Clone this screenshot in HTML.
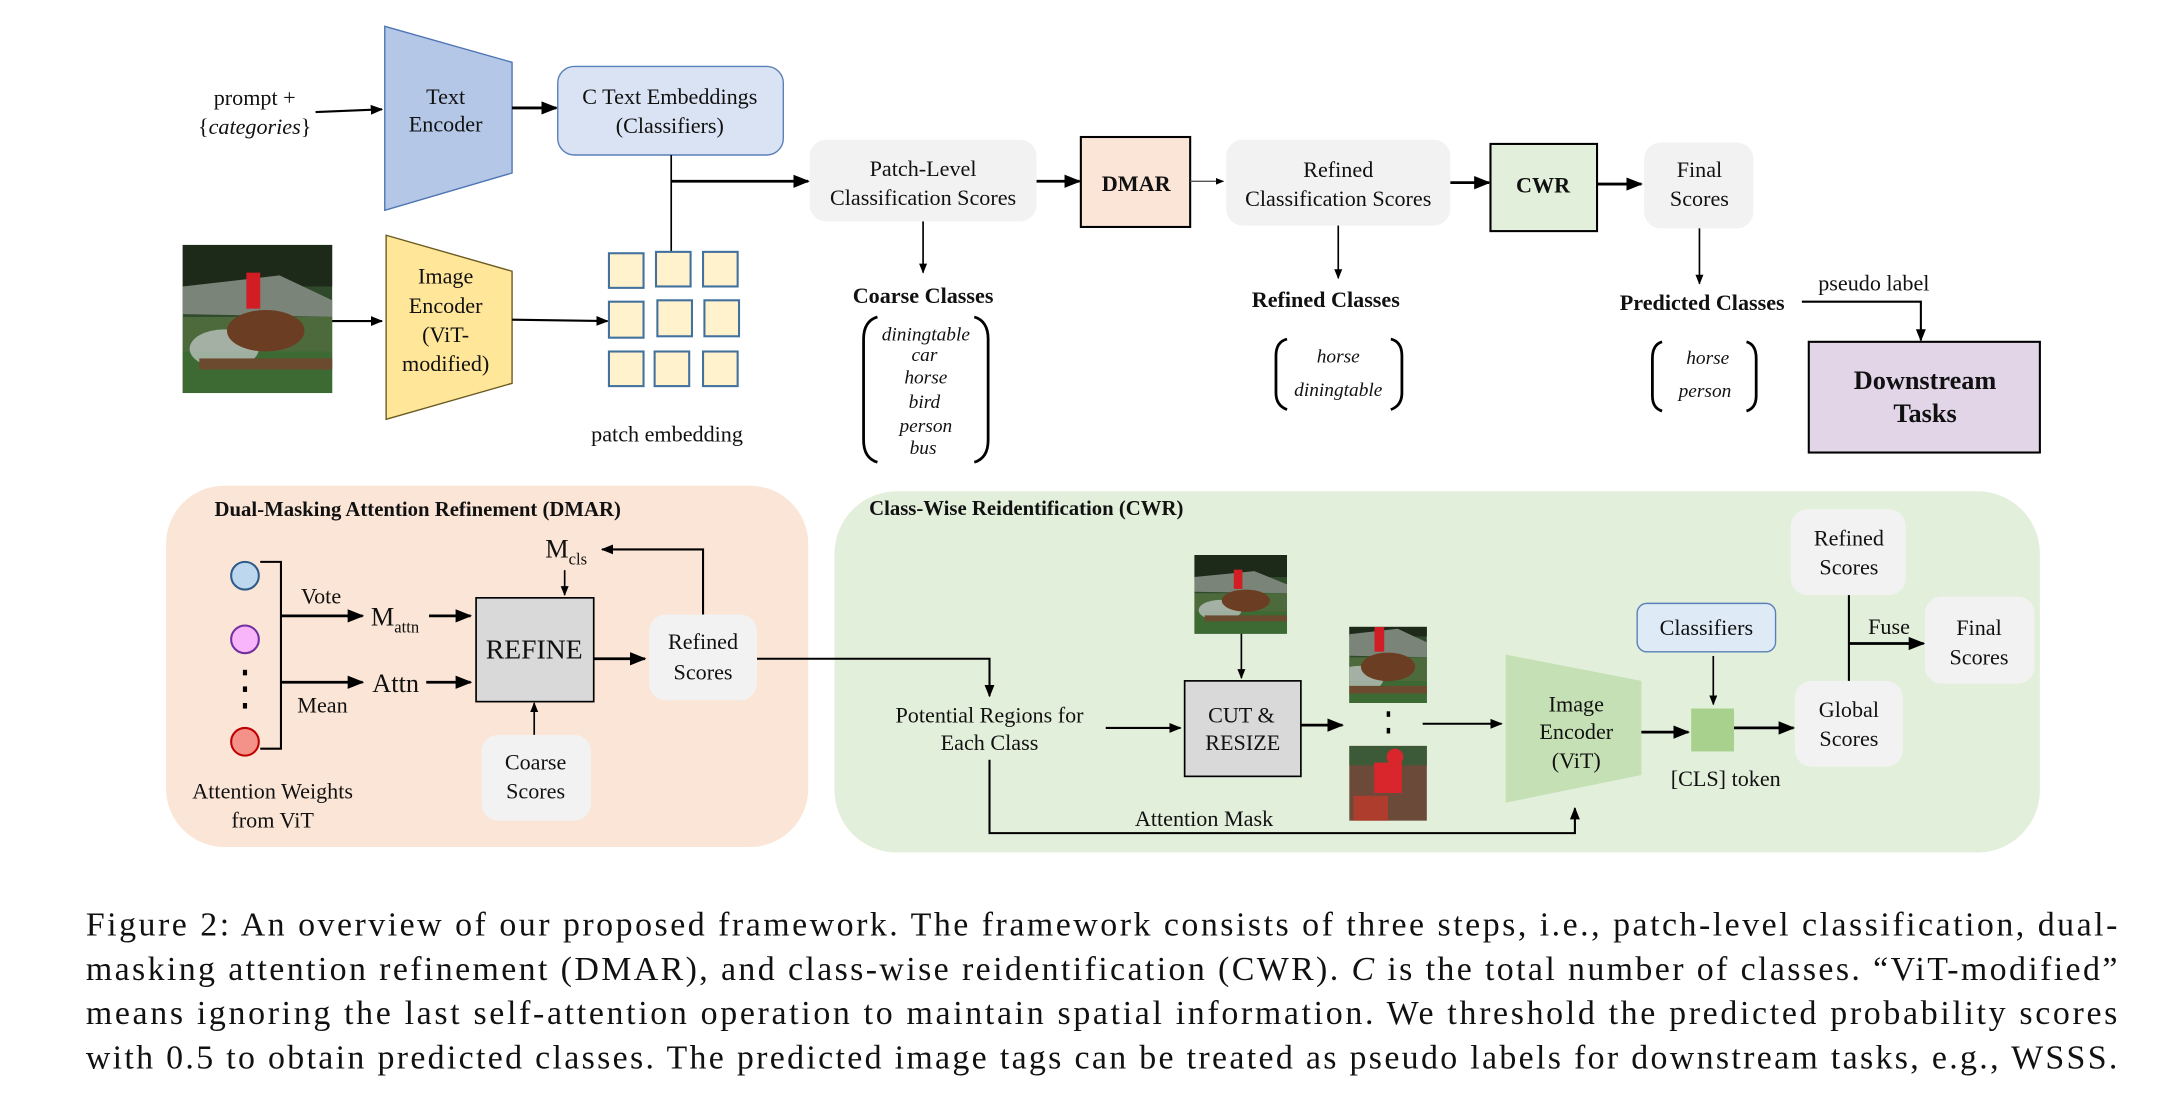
<!DOCTYPE html>
<html><head><meta charset="utf-8"><style>
html,body{margin:0;padding:0;background:#fff;}
svg{display:block;}
text{font-family:"Liberation Serif","Times New Roman",Times,serif;fill:#111;}
.c{text-anchor:middle;}
.t{font-size:16px;}
.b{font-weight:bold;}
.i{font-style:italic;}
.cap{font-size:24.5px;}
</style></head><body>
<svg width="2170" height="1115" viewBox="0 0 1568 805.7" xmlns="http://www.w3.org/2000/svg">
<defs>
<marker id="a" viewBox="0 0 10 10" refX="9" refY="5" markerWidth="6" markerHeight="6" orient="auto"><path d="M0,1 L10,5 L0,9 z" fill="#000"/></marker>
<g id="horse">
<rect x="0" y="0" width="108" height="107" fill="#2f4a2a"/>
<rect x="0" y="0" width="108" height="30" fill="#1d2a1a"/>
<polygon points="0,30 70,22 108,40 108,52 0,50" fill="#7a8478"/>
<rect x="0" y="52" width="108" height="25" fill="#4d6a3c"/>
<rect x="0" y="77" width="108" height="30" fill="#3d6a32"/>
<ellipse cx="30" cy="75" rx="25" ry="14" fill="#c9cfcf" opacity="0.7"/>
<ellipse cx="60" cy="62" rx="28" ry="15" fill="#6b3d22"/>
<rect x="46" y="20" width="10" height="26" fill="#d21d24"/>
<rect x="12" y="82" width="96" height="8" fill="#6b4a30"/>
</g>
</defs>

<!-- top row -->
<text class="t c" x="184" y="76">prompt +</text>
<text class="t c" x="184" y="97">{<tspan class="i">categories</tspan>}</text>
<line x1="228" y1="81" x2="276" y2="79" stroke="#000" stroke-width="1.5" marker-end="url(#a)"/>
<polygon points="278,19 370,45 370,125 278,152" fill="#b4c7e7" stroke="#4f76b4" stroke-width="1"/>
<text class="t c" x="322" y="75">Text</text>
<text class="t c" x="322" y="95">Encoder</text>
<line x1="370" y1="78" x2="402" y2="78" stroke="#000" stroke-width="2" marker-end="url(#a)"/>
<rect x="403" y="48" width="163" height="64" rx="12" fill="#dae3f3" stroke="#5a80b8" stroke-width="1"/>
<text class="t c" x="484" y="75">C Text Embeddings</text>
<text class="t c" x="484" y="96">(Classifiers)</text>
<line x1="485" y1="112" x2="485" y2="182" stroke="#000" stroke-width="1.2"/>
<line x1="485" y1="131" x2="584" y2="131" stroke="#000" stroke-width="2" marker-end="url(#a)"/>
<rect x="585" y="101" width="164" height="59" rx="12" fill="#f2f2f2"/>
<text class="t c" x="667" y="127">Patch-Level</text>
<text class="t c" x="667" y="148">Classification Scores</text>
<line x1="749" y1="131" x2="780" y2="131" stroke="#000" stroke-width="2" marker-end="url(#a)"/>
<rect x="781" y="99" width="79" height="65" fill="#fbe5d6" stroke="#000" stroke-width="1.5"/>
<text class="t c b" x="821" y="138">DMAR</text>
<line x1="860" y1="131" x2="884" y2="131" stroke="#555" stroke-width="1" marker-end="url(#a)"/>
<rect x="886" y="101" width="162" height="62" rx="12" fill="#f2f2f2"/>
<text class="t c" x="967" y="128">Refined</text>
<text class="t c" x="967" y="149">Classification Scores</text>
<line x1="1048" y1="132" x2="1076" y2="132" stroke="#000" stroke-width="2" marker-end="url(#a)"/>
<rect x="1077" y="104" width="77" height="63" fill="#e2efda" stroke="#000" stroke-width="1.5"/>
<text class="t c b" x="1115" y="139">CWR</text>
<line x1="1154" y1="133" x2="1186" y2="133" stroke="#000" stroke-width="2" marker-end="url(#a)"/>
<rect x="1188" y="103" width="79" height="62" rx="12" fill="#f2f2f2"/>
<text class="t c" x="1228" y="128">Final</text>
<text class="t c" x="1228" y="149">Scores</text>

<!-- class lists -->
<line x1="667" y1="160" x2="667" y2="197" stroke="#000" stroke-width="1.2" marker-end="url(#a)"/>
<text class="t c b" x="667" y="219">Coarse Classes</text>
<path d="M634,229 Q624,232 624,245 L624,318 Q624,331 634,334" fill="none" stroke="#000" stroke-width="2"/>
<path d="M704,229 Q714,232 714,245 L714,318 Q714,331 704,334" fill="none" stroke="#000" stroke-width="2"/>
<text class="c i" x="669" y="246" font-size="14">diningtable</text>
<text class="c i" x="668" y="261" font-size="14">car</text>
<text class="c i" x="669" y="277" font-size="14">horse</text>
<text class="c i" x="668" y="295" font-size="14">bird</text>
<text class="c i" x="669" y="312" font-size="14">person</text>
<text class="c i" x="667" y="328" font-size="14">bus</text>
<line x1="967" y1="163" x2="967" y2="201" stroke="#000" stroke-width="1.2" marker-end="url(#a)"/>
<text class="t c b" x="958" y="222">Refined Classes</text>
<path d="M930,245 Q922,247 922,257 L922,284 Q922,293 930,296" fill="none" stroke="#000" stroke-width="2"/>
<path d="M1005,245 Q1013,247 1013,257 L1013,284 Q1013,293 1005,296" fill="none" stroke="#000" stroke-width="2"/>
<text class="c i" x="967" y="262" font-size="14">horse</text>
<text class="c i" x="967" y="286" font-size="14">diningtable</text>
<line x1="1228" y1="165" x2="1228" y2="205" stroke="#000" stroke-width="1.2" marker-end="url(#a)"/>
<text class="t c b" x="1230" y="224">Predicted Classes</text>
<path d="M1201,247 Q1194,249 1194,259 L1194,286 Q1194,295 1201,297" fill="none" stroke="#000" stroke-width="2"/>
<path d="M1262,247 Q1269,249 1269,259 L1269,286 Q1269,295 1262,297" fill="none" stroke="#000" stroke-width="2"/>
<text class="c i" x="1234" y="263" font-size="14">horse</text>
<text class="c i" x="1232" y="287" font-size="14">person</text>
<text class="t c" x="1354" y="210">pseudo label</text>
<polyline points="1302,218 1388,218 1388,246" fill="none" stroke="#000" stroke-width="1.5" marker-end="url(#a)"/>
<rect x="1307" y="247" width="167" height="80" fill="#e1d5e7" stroke="#000" stroke-width="1.5"/>
<text class="c b" x="1391" y="281" font-size="19">Downstream</text>
<text class="c b" x="1391" y="305" font-size="19">Tasks</text>

<!-- image branch -->
<use href="#horse" x="132" y="177"/>
<line x1="240" y1="232" x2="276" y2="232" stroke="#000" stroke-width="1.5" marker-end="url(#a)"/>
<polygon points="279,170 370,196 370,277 279,303" fill="#ffe699" stroke="#6b5a20" stroke-width="1"/>
<text class="t c" x="322" y="205">Image</text>
<text class="t c" x="322" y="226">Encoder</text>
<text class="t c" x="322" y="247">(ViT-</text>
<text class="t c" x="322" y="268">modified)</text>
<line x1="370" y1="231" x2="439" y2="232" stroke="#000" stroke-width="1.5" marker-end="url(#a)"/>
<g fill="#fff2cc" stroke="#41719c" stroke-width="1.5">
<rect x="440" y="183" width="25" height="25"/><rect x="474" y="182" width="25" height="25"/><rect x="508" y="182" width="25" height="25"/>
<rect x="440" y="218" width="25" height="26"/><rect x="475" y="217" width="25" height="26"/><rect x="509" y="217" width="25" height="26"/>
<rect x="440" y="254" width="25" height="25"/><rect x="473" y="254" width="25" height="25"/><rect x="508" y="254" width="25" height="25"/>
</g>
<text class="t c" x="482" y="319">patch embedding</text>

<!-- DMAR panel -->
<rect x="120" y="351" width="464" height="261" rx="42" fill="#fbe5d6"/>
<text class="b" x="155" y="373" font-size="15">Dual-Masking Attention Refinement (DMAR)</text>
<circle cx="177" cy="416" r="10" fill="#bdd7ee" stroke="#2e5c8a" stroke-width="1.5"/>
<circle cx="177" cy="462" r="10" fill="#f9b5f9" stroke="#7030a0" stroke-width="1.5"/>
<rect x="175.5" y="484" width="3" height="4" fill="#000"/><rect x="175.5" y="496" width="3" height="4" fill="#000"/><rect x="175.5" y="508" width="3" height="4" fill="#000"/>
<circle cx="177" cy="536" r="10" fill="#f4928a" stroke="#c00000" stroke-width="1.5"/>
<polyline points="188,406 203,406 203,541 188,541" fill="none" stroke="#000" stroke-width="1.5"/>
<line x1="203" y1="445" x2="262" y2="445" stroke="#000" stroke-width="2" marker-end="url(#a)"/>
<text class="t c" x="232" y="436">Vote</text>
<text x="268" y="452" font-size="19">M<tspan font-size="12" dy="5">attn</tspan></text>
<line x1="310" y1="445" x2="340" y2="445" stroke="#000" stroke-width="2" marker-end="url(#a)"/>
<line x1="203" y1="493" x2="262" y2="493" stroke="#000" stroke-width="2" marker-end="url(#a)"/>
<text x="269" y="500" font-size="19">Attn</text>
<text class="t c" x="233" y="515">Mean</text>
<line x1="308" y1="493" x2="340" y2="493" stroke="#000" stroke-width="2" marker-end="url(#a)"/>
<rect x="344" y="432" width="85" height="75" fill="#d9d9d9" stroke="#000" stroke-width="1.2"/>
<text class="c" x="386" y="476" font-size="20">REFINE</text>
<text x="394" y="403" font-size="19">M<tspan font-size="12" dy="5">cls</tspan></text>
<line x1="408" y1="412" x2="408" y2="430" stroke="#000" stroke-width="1.2" marker-end="url(#a)"/>
<rect x="469" y="444" width="78" height="62" rx="12" fill="#f2f2f2"/>
<text class="t c" x="508" y="469">Refined</text>
<text class="t c" x="508" y="491">Scores</text>
<line x1="429" y1="476" x2="466" y2="476" stroke="#000" stroke-width="2" marker-end="url(#a)"/>
<polyline points="508,444 508,397 435,397" fill="none" stroke="#000" stroke-width="1.5" marker-end="url(#a)"/>
<rect x="348" y="531" width="79" height="62" rx="12" fill="#f2f2f2"/>
<text class="t c" x="387" y="556">Coarse</text>
<text class="t c" x="387" y="577">Scores</text>
<line x1="386" y1="531" x2="386" y2="508" stroke="#000" stroke-width="1.2" marker-end="url(#a)"/>
<text class="t c" x="197" y="577">Attention Weights</text>
<text class="t c" x="197" y="598">from ViT</text>

<!-- CWR panel -->
<rect x="603" y="355" width="871" height="261" rx="45" fill="#e2efda"/>
<polyline points="547,476 715,476 715,503" fill="none" stroke="#000" stroke-width="1.5" marker-end="url(#a)"/>
<text class="b" x="628" y="372" font-size="15">Class-Wise Reidentification (CWR)</text>
<text class="t c" x="715" y="522">Potential Regions for</text>
<text class="t c" x="715" y="542">Each Class</text>
<polyline points="715,549 715,602 1138,602 1138,584" fill="none" stroke="#000" stroke-width="1.5" marker-end="url(#a)"/>
<text class="t c" x="870" y="597">Attention Mask</text>
<line x1="799" y1="526" x2="853" y2="526" stroke="#000" stroke-width="1.5" marker-end="url(#a)"/>
<rect x="856" y="492" width="84" height="69" fill="#d9d9d9" stroke="#000" stroke-width="1.2"/>
<text class="t c" x="897" y="522">CUT &amp;</text>
<text class="t c" x="898" y="542">RESIZE</text>
<svg x="863" y="401" width="67" height="57" viewBox="0 0 108 107" preserveAspectRatio="none"><use href="#horse"/></svg>
<line x1="897" y1="458" x2="897" y2="490" stroke="#000" stroke-width="1.2" marker-end="url(#a)"/>
<line x1="940" y1="524" x2="970" y2="524" stroke="#000" stroke-width="2" marker-end="url(#a)"/>
<svg x="975" y="453" width="56" height="55" viewBox="20 20 80 80" preserveAspectRatio="none"><use href="#horse"/></svg>
<g><rect x="975" y="539" width="56" height="54" fill="#6b4a3a"/><rect x="975" y="539" width="56" height="14" fill="#3d5a38"/><rect x="993" y="551" width="20" height="22" fill="#d9262c"/><circle cx="1008" cy="547" r="6" fill="#d9262c"/><rect x="978" y="575" width="25" height="18" fill="#c0392b" opacity="0.8"/></g>
<rect x="1002" y="514" width="2.5" height="4" fill="#000"/><rect x="1002" y="526" width="2.5" height="4" fill="#000"/>
<line x1="1028" y1="523" x2="1085" y2="523" stroke="#000" stroke-width="1.5" marker-end="url(#a)"/>
<polygon points="1088,473 1186,492 1186,560 1088,580" fill="#c5e0b4"/>
<text class="t c" x="1139" y="514">Image</text>
<text class="t c" x="1139" y="534">Encoder</text>
<text class="t c" x="1139" y="555">(ViT)</text>
<line x1="1186" y1="529" x2="1220" y2="529" stroke="#000" stroke-width="2" marker-end="url(#a)"/>
<rect x="1222" y="512" width="31" height="31" fill="#a9d18e"/>
<text class="t c" x="1247" y="568">[CLS] token</text>
<rect x="1183" y="436" width="100" height="35" rx="7" fill="#deebf7" stroke="#5a80b8" stroke-width="1"/>
<text class="t c" x="1233" y="459">Classifiers</text>
<line x1="1238" y1="474" x2="1238" y2="509" stroke="#000" stroke-width="1.2" marker-end="url(#a)"/>
<line x1="1253" y1="526" x2="1296" y2="526" stroke="#000" stroke-width="2" marker-end="url(#a)"/>
<rect x="1297" y="492" width="78" height="62" rx="12" fill="#f2f2f2"/>
<text class="t c" x="1336" y="518">Global</text>
<text class="t c" x="1336" y="539">Scores</text>
<rect x="1294" y="368" width="83" height="62" rx="12" fill="#f2f2f2"/>
<text class="t c" x="1336" y="394">Refined</text>
<text class="t c" x="1336" y="415">Scores</text>
<line x1="1336" y1="430" x2="1336" y2="492" stroke="#000" stroke-width="1.5"/>
<line x1="1336" y1="465" x2="1390" y2="465" stroke="#000" stroke-width="2" marker-end="url(#a)"/>
<text class="t c" x="1365" y="458">Fuse</text>
<rect x="1391" y="431" width="79" height="63" rx="12" fill="#f2f2f2"/>
<text class="t c" x="1430" y="459">Final</text>
<text class="t c" x="1430" y="480">Scores</text>

<!-- caption -->
<text class="cap" x="62" y="676" textLength="1468" lengthAdjust="spacing">Figure 2: An overview of our proposed framework. The framework consists of three steps, i.e., patch-level classification, dual-</text>
<text class="cap" x="62" y="708" textLength="1468" lengthAdjust="spacing">masking attention refinement (DMAR), and class-wise reidentification (CWR). <tspan font-style="italic">C</tspan> is the total number of classes. “ViT-modified”</text>
<text class="cap" x="62" y="740" textLength="1468" lengthAdjust="spacing">means ignoring the last self-attention operation to maintain spatial information. We threshold the predicted probability scores</text>
<text class="cap" x="62" y="772" textLength="1468" lengthAdjust="spacing">with 0.5 to obtain predicted classes. The predicted image tags can be treated as pseudo labels for downstream tasks, e.g., WSSS.</text>
</svg>
</body></html>
